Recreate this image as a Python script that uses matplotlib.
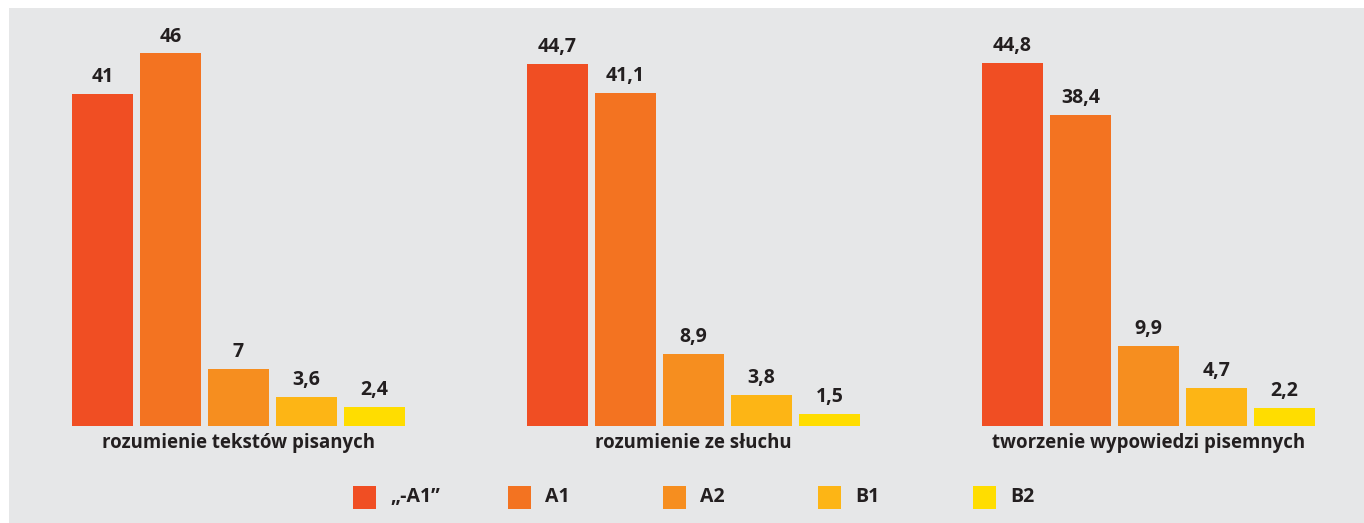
import matplotlib

matplotlib.use("Agg")
import matplotlib.pyplot as plt
import numpy as np
from matplotlib.patches import Rectangle

# data
categories = ["rozumienie tekstów pisanych", "rozumienie ze słuchu", "tworzenie wypowiedzi pisemnych"]
levels = ["„-A1”", "A1", "A2", "B1", "B2"]
values = {
    "„-A1”": [41, 44.7, 44.8],
    "A1": [46, 41.1, 38.4],
    "A2": [7, 8.9, 9.9],
    "B1": [3.6, 3.8, 4.7],
    "B2": [2.4, 1.5, 2.2],
}
colors = ["#f04e23", "#f37321", "#f68e1f", "#fdb515", "#ffdd00"]

BG = "#e6e7e8"
TXT = "#231f20"
FONT = ["Open Sans", "DejaVu Sans"]

W, H = 1364, 523
fig = plt.figure(figsize=(W / 100, H / 100), dpi=100, facecolor="white")
# grey panel, leaves a thin white strip at left and top
ax = fig.add_axes([9 / W, 0, (W - 9) / W, (H - 8) / H])
ax.set_facecolor(BG)
for s in ax.spines.values():
    s.set_visible(False)
ax.set_xticks([])
ax.set_yticks([])

group_step = 455 / 68  # distance between groups in bar-pitch units
bar_w = 61 / 68
x0 = np.arange(len(categories)) * group_step

for j, lev in enumerate(levels):
    xs = x0 + j
    bars = ax.bar(xs, values[lev], width=bar_w, color=colors[j], linewidth=0)
    for b, v in zip(bars, values[lev]):
        lab = f"{v:g}".replace(".", ",")
        ax.text(b.get_x() + b.get_width() / 2, v + 0.85, lab, ha="center", va="bottom",
                fontsize=14, fontweight="bold", color=TXT, family=FONT)

for i, cat in enumerate(categories):
    ax.text(x0[i] + 2, -2.1, cat, ha="center", va="center", fontsize=13.4,
            fontweight="bold", color=TXT, family=FONT)

# pixel mapping: x_px = 102.5 + 68*x, y_px = 426 - 8.1*v
ax.set_xlim((9 - 102.5) / 68, (W - 102.5) / 68)
ax.set_ylim((426 - H) / 8.1, (426 - 8) / 8.1)

# legend drawn by hand, evenly spaced
sq = 23
for i, lev in enumerate(levels):
    lx = 353 + i * 155
    ly = 497
    fig.add_artist(Rectangle((lx / W, (H - ly - sq / 2) / H), sq / W, sq / H,
                             transform=fig.transFigure, color=colors[i], linewidth=0))
    fig.text((lx + sq + 14) / W, (H - ly) / H, lev, ha="left", va="center",
             fontsize=14, fontweight="bold", color=TXT, family=FONT)

fig.savefig("out.png", dpi=100, facecolor="white")
